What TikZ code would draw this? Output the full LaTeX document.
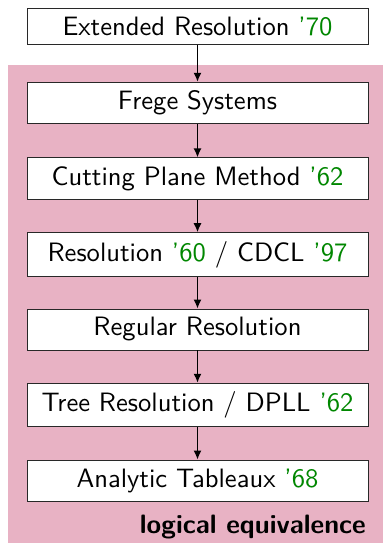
\documentclass[tikz,border=0pt]{standalone}
\usetikzlibrary{arrows.meta}
\definecolor{bgpink}{RGB}{232,178,196}
\definecolor{yeargreen}{RGB}{0,135,0}
\definecolor{boxline}{RGB}{40,40,40}
\newcommand{\yr}[1]{\textcolor{yeargreen}{#1}}
\newcommand{\bigtxt}[1]{\scalebox{2.67}{\fontsize{10}{12}\selectfont\sffamily #1}}
\begin{document}
\begin{tikzpicture}[x=1bp,y=-1bp,
  sysbox/.style={draw=boxline,line width=0.9bp,fill=white,minimum width=341bp,inner xsep=4bp,inner ysep=8.5bp},
  arr/.style={-{Latex[length=9bp,width=8bp]},line width=1.5bp,black}]
\useasboundingbox (0,0) rectangle (383,553);
\fill[bgpink] (8,65) rectangle (383,543);
\node[sysbox] (er) at (197.5,26.5) {\bigtxt{Extended Resolution \yr{'70}}};
\node[sysbox] (fs) at (197.5,103) {\bigtxt{Frege Systems}};
\node[sysbox] (cp) at (197.5,178.5) {\bigtxt{Cutting Plane Method \yr{'62}}};
\node[sysbox] (rs) at (197.5,254.5) {\bigtxt{Resolution \yr{'60} / CDCL \yr{'97}}};
\node[sysbox] (rr) at (197.5,329.5) {\bigtxt{Regular Resolution}};
\node[sysbox] (tr) at (197.5,405) {\bigtxt{Tree Resolution / DPLL \yr{'62}}};
\node[sysbox] (at) at (197.5,480.5) {\bigtxt{Analytic Tableaux \yr{'68}}};
\node[anchor=east,inner sep=0pt] (le) at (366,527) {\bigtxt{\bfseries logical equivalence}};
\draw[arr] (er) -- (fs);
\draw[arr] (fs) -- (cp);
\draw[arr] (cp) -- (rs);
\draw[arr] (rs) -- (rr);
\draw[arr] (rr) -- (tr);
\draw[arr] (tr) -- (at);
\end{tikzpicture}
\end{document}
